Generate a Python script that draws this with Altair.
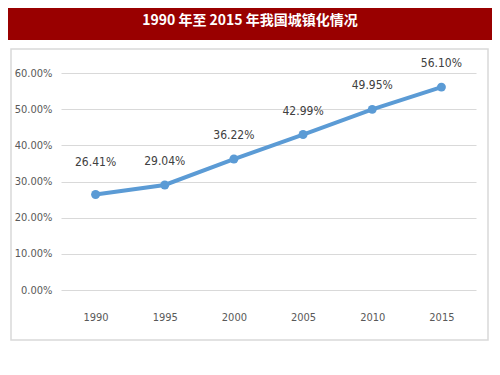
import altair as alt
import pandas as pd

years = ["1990", "1995", "2000", "2005", "2010", "2015"]
rates = [0.2641, 0.2904, 0.3622, 0.4299, 0.4995, 0.5610]
y_ticks = [0, 0.1, 0.2, 0.3, 0.4, 0.5, 0.6]
title_text = "1990 年至 2015 年我国城镇化情况"

df = pd.DataFrame({"year": years, "rate": rates})
one = pd.DataFrame({"k": [0]})

W, H = 415, 217
FONT = "DejaVu Sans Condensed"

banner = alt.Chart(one).mark_rect(color="#990000").encode(
    x=alt.value(-53), x2=alt.value(431), y=alt.value(-65), y2=alt.value(-33)
)
title = alt.Chart(one).mark_text(
    text=title_text, color="white", fontSize=14, fontWeight="bold",
    font="Noto Sans CJK SC", align="center", baseline="middle"
).encode(x=alt.value(189), y=alt.value(-52))
frame = alt.Chart(one).mark_rect(
    fillOpacity=0, stroke="#d9d9d9", strokeWidth=1.5
).encode(x=alt.value(-50), x2=alt.value(427), y=alt.value(-24), y2=alt.value(267))

x = alt.X(
    "year:O", sort=years, scale=alt.Scale(type="point", padding=0.5),
    axis=alt.Axis(title=None, labelAngle=0, domain=False, ticks=False, grid=False,
                  labelPadding=21, labelFont=FONT, labelFontSize=11, labelColor="#595959"),
)
y = alt.Y(
    "rate:Q", scale=alt.Scale(domain=[0, 0.6]),
    axis=alt.Axis(values=y_ticks, format=".2%", title=None, domain=False, ticks=False,
                  labelPadding=9, labelFont=FONT, labelFontSize=11, labelColor="#595959",
                  gridColor="#d9d9d9", gridWidth=1.2),
)

base = alt.Chart(df).encode(x=x, y=y)
line = base.mark_line(color="#5B9BD5", strokeWidth=4)
pts = base.mark_point(filled=True, color="#5B9BD5", size=80, opacity=1)
labels = base.transform_filter(alt.datum.year != "1990").mark_text(
    dy=-24, font=FONT, fontSize=12, color="#404040", baseline="middle"
).encode(text=alt.Text("rate:Q", format=".2%"))
label_first = base.transform_filter(alt.datum.year == "1990").mark_text(
    dy=-32, font=FONT, fontSize=12, color="#404040", baseline="middle"
).encode(text=alt.Text("rate:Q", format=".2%"))

chart = alt.layer(banner, title, frame, line, pts, labels, label_first).properties(
    width=W, height=H,
    autosize=alt.AutoSizeParams(type="none"),
    padding={"left": 53, "top": 65, "right": 16, "bottom": 77},
    background="white",
).configure_view(stroke=None)

chart.save("out.html", embed_options={"renderer": "svg", "actions": False})
